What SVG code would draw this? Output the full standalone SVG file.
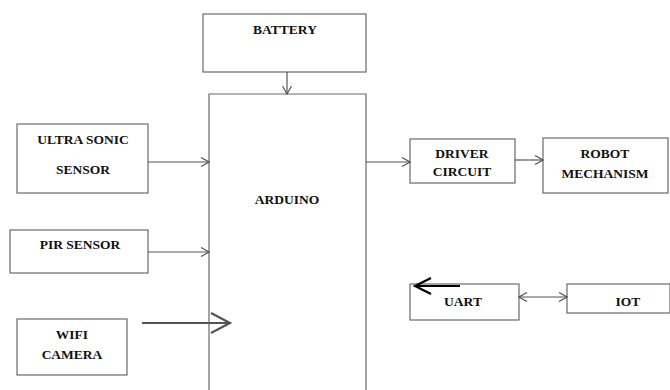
<svg xmlns="http://www.w3.org/2000/svg" width="670" height="390" viewBox="0 0 670 390">
<defs>
<style>
.box{fill:#fff;stroke:#6a6a6a;stroke-width:1.2}
.t{font-family:"Liberation Serif","Times New Roman",serif;font-weight:bold;font-size:13.5px;fill:#111;text-anchor:middle}
.c{stroke:#555;stroke-width:1.2;fill:none}
</style>
<marker id="ah" markerWidth="10" markerHeight="12" refX="9" refY="6" orient="auto" markerUnits="userSpaceOnUse">
<path d="M1,1.5 L9,6 L1,10.5" fill="none" stroke="#555" stroke-width="1.2"/>
</marker>
<marker id="ahs" markerWidth="10" markerHeight="12" refX="9" refY="6" orient="auto-start-reverse" markerUnits="userSpaceOnUse">
<path d="M1,1.5 L9,6 L1,10.5" fill="none" stroke="#555" stroke-width="1.2"/>
</marker>
</defs>
<rect width="670" height="390" fill="#fff"/>
<g id="battery"><rect class="box" x="203" y="14" width="163" height="58"/><text class="t" x="285" y="34">BATTERY</text></g>
<g id="arduino"><path class="box" d="M209,392 V94 H366 V392"/><text class="t" x="287" y="204">ARDUINO</text></g>
<g id="ultrasonic"><rect class="box" x="17" y="124" width="131" height="69"/><text class="t" x="83" y="144">ULTRA SONIC</text><text class="t" x="83" y="174">SENSOR</text></g>
<g id="pir"><rect class="box" x="10" y="230" width="138" height="43"/><text class="t" x="80" y="249">PIR SENSOR</text></g>
<g id="wifi"><rect class="box" x="17" y="319" width="110" height="56"/><text class="t" x="72" y="339">WIFI</text><text class="t" x="72" y="359">CAMERA</text></g>
<g id="driver"><rect class="box" x="410" y="139" width="105" height="44"/><text class="t" x="462" y="158">DRIVER</text><text class="t" x="462" y="176">CIRCUIT</text></g>
<g id="robot"><rect class="box" x="543" y="138" width="125" height="55"/><text class="t" x="605" y="158">ROBOT</text><text class="t" x="605" y="178">MECHANISM</text></g>
<g id="uart"><rect class="box" x="410" y="284" width="109" height="36"/><text class="t" x="463" y="306">UART</text></g>
<g id="iot"><rect class="box" x="567" y="284" width="103" height="29"/><text class="t" x="628" y="306">IOT</text></g>
<g id="connectors">
<line class="c" x1="287" y1="72" x2="287" y2="94" marker-end="url(#ah)"/>
<line class="c" x1="148" y1="162" x2="209" y2="162" marker-end="url(#ah)"/>
<line class="c" x1="148" y1="252" x2="209" y2="252" marker-end="url(#ah)"/>
<line class="c" x1="366" y1="162" x2="410" y2="162" marker-end="url(#ah)"/>
<line class="c" x1="515" y1="160" x2="543" y2="160" marker-end="url(#ah)"/>
<line class="c" x1="519" y1="297" x2="567" y2="297" marker-start="url(#ahs)" marker-end="url(#ahs)"/>
<path d="M142,323 H229 M211,313 L230,323 L211,333" fill="none" stroke="#555" stroke-width="2.2"/>
<path d="M460,286 H415 M431,278 L415,286 L431,294" fill="none" stroke="#000" stroke-width="2.2"/>
</g>
</svg>
